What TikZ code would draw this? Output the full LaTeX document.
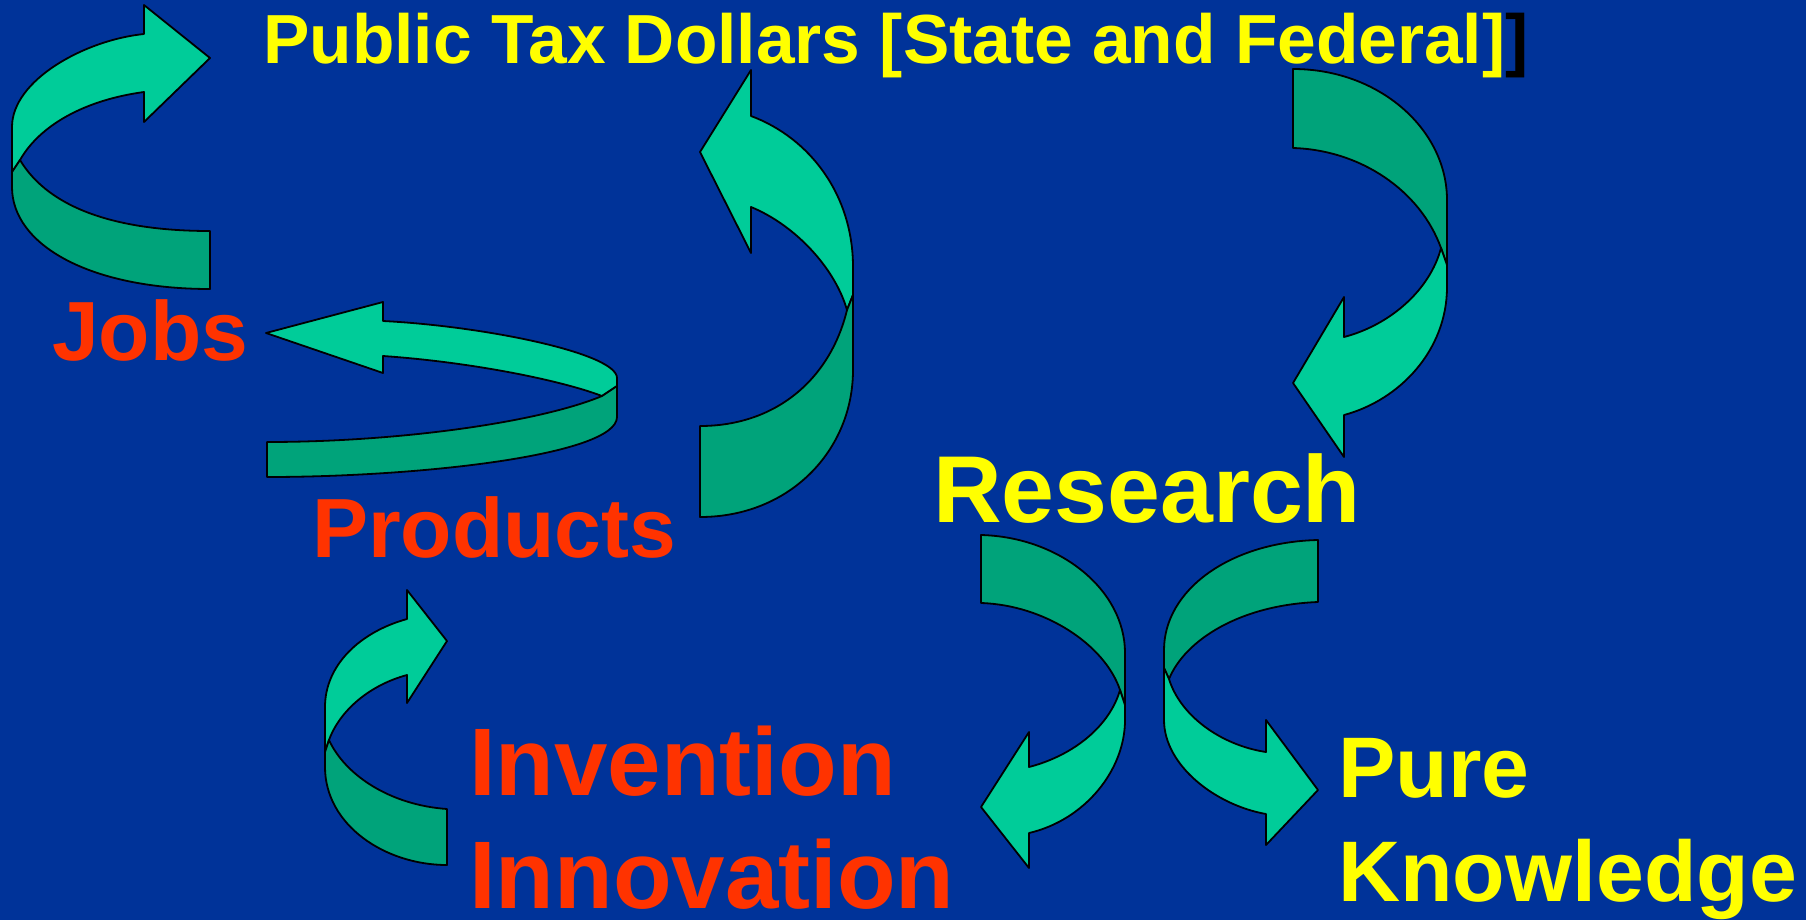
\documentclass[tikz,border=0pt]{standalone}
\usepackage{fontspec}
\setmainfont{Liberation Sans}
\definecolor{bg}{HTML}{003399}
\definecolor{lightg}{HTML}{00CC99}
\definecolor{darkg}{HTML}{00A37A}
\definecolor{txtyellow}{HTML}{FFFF00}
\definecolor{txtred}{HTML}{FF3300}
\begin{document}
\begin{tikzpicture}[x=1pt,y=-1pt,
  lightband/.style={fill=lightg,draw=black,line width=1.8pt,line join=round},
  darkband/.style={fill=darkg,draw=black,line width=1.8pt,line join=round},
  txt/.style={inner sep=0pt,anchor=base west},
]
\useasboundingbox (0,0) rectangle (1806,919);
\fill[bg] (-6,-6) rectangle (1812,925);

% arrow 1: top left, towards the title
\draw[lightband] (144,34) -- (144,5) -- (210,58) -- (144,122) -- (144,92) .. controls (85,100) and (40,125) .. (20,160) -- (12,172) -- (12,127) .. controls (12,80) and (85,40) .. (144,34) -- cycle;
\draw[darkband] (20,160) .. controls (50,210) and (120,231) .. (210,231) -- (210,289) .. controls (90,289) and (12,245) .. (12,187) -- (12,172) -- cycle;

% arrow 2: products up to title
\draw[lightband] (751,116) -- (751,70) -- (700,152) -- (751,253) -- (751,207) .. controls (795,225) and (835,268) .. (847,310) -- (853,295) -- (853,267) .. controls (853,195) and (810,138) .. (751,116) -- cycle;
\draw[darkband] (847,310) .. controls (830,380) and (775,426) .. (700,426) -- (700,517) .. controls (790,517) and (853,450) .. (853,370) -- (853,295) -- cycle;

% arrow 3: title down to research
\draw[darkband] (1293,69) .. controls (1380,69) and (1447,130) .. (1447,200) -- (1447,265) -- (1441,248) .. controls (1420,190) and (1360,150) .. (1293,148) -- cycle;
\draw[lightband] (1441,248) -- (1447,265) -- (1447,287) .. controls (1447,350) and (1400,400) .. (1344,415) -- (1344,457) -- (1293,383) -- (1344,297) -- (1344,337) .. controls (1390,325) and (1430,290) .. (1441,248) -- cycle;

% arrow 4: products to jobs
\draw[lightband] (383,321) -- (383,302) -- (266,333) -- (383,373) -- (383,356) .. controls (470,362) and (560,380) .. (602,396) -- (617,386) -- (617,378) .. controls (617,353) and (483,326) .. (383,321) -- cycle;
\draw[darkband] (602,396) .. controls (540,422) and (400,442) .. (267,442) -- (267,477) .. controls (420,477) and (617,455) .. (617,417) -- (617,386) -- cycle;

% arrow 5: invention up to products
\draw[lightband] (407,619) -- (407,590) -- (447,641) -- (407,703) -- (407,675) .. controls (370,685) and (340,710) .. (329,740) -- (325,752) -- (325,707) .. controls (325,665) and (360,632) .. (407,619) -- cycle;
\draw[darkband] (329,740) .. controls (345,775) and (390,805) .. (447,809) -- (447,865) .. controls (385,865) and (325,825) .. (325,767) -- (325,752) -- cycle;

% arrow 6: research down to invention
\draw[darkband] (981,535) .. controls (1060,537) and (1125,590) .. (1125,653) -- (1125,705) -- (1120,690) .. controls (1105,645) and (1045,605) .. (981,603) -- cycle;
\draw[lightband] (1120,690) -- (1125,705) -- (1125,720) .. controls (1125,770) and (1085,820) .. (1029,833) -- (1029,868) -- (981,807) -- (1029,732) -- (1029,767) .. controls (1075,755) and (1110,725) .. (1120,690) -- cycle;

% arrow 7: research down to pure knowledge
\draw[darkband] (1318,540) .. controls (1230,542) and (1164,590) .. (1164,650) -- (1164,668) -- (1169,679) .. controls (1185,640) and (1240,605) .. (1318,602) -- cycle;
\draw[lightband] (1169,679) -- (1164,668) -- (1164,720) .. controls (1164,765) and (1215,805) .. (1266,814) -- (1266,845) -- (1318,790) -- (1266,720) -- (1266,752) .. controls (1220,745) and (1180,715) .. (1169,679) -- cycle;

% texts
\node[txt,text=txtyellow,font=\bfseries\fontsize{69.5}{69.5}\selectfont] (title) at (263,63) {Public Tax Dollars [State and Federal]\textcolor{black}{]}};
\node[txt,text=txtred,font=\bfseries\fontsize{84}{84}\selectfont] (jobs) at (52,360) {Jobs};
\node[txt,text=txtred,font=\bfseries\fontsize{84}{84}\selectfont] (products) at (312,557) {Products};
\node[txt,text=txtyellow,font=\bfseries\fontsize{95}{95}\selectfont] (research) at (933,522) {Research};
\node[txt,text=txtred,font=\bfseries\fontsize{96}{96}\selectfont] (invention) at (469,795) {Invention};
\node[txt,text=txtred,font=\bfseries\fontsize{96}{96}\selectfont] (innovation) at (469,908) {Innovation};
\node[txt,text=txtyellow,font=\bfseries\fontsize{86}{86}\selectfont] (pure) at (1338,797) {Pure};
\node[txt,text=txtyellow,font=\bfseries\fontsize{86}{86}\selectfont] (knowledge) at (1338,901) {Knowledge};
\end{tikzpicture}
\end{document}
